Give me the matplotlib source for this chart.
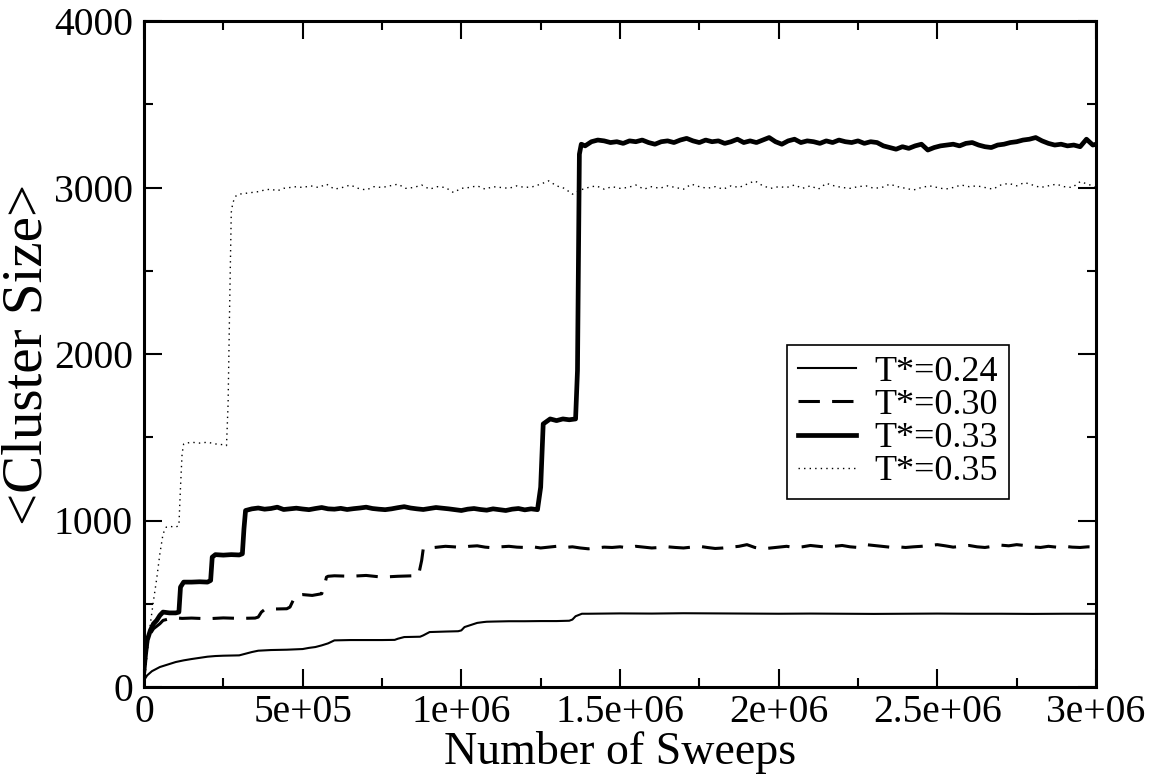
import numpy as np
import matplotlib
matplotlib.use("Agg")
import matplotlib.pyplot as plt

# ---------------- data (x in thousands of sweeps) ----------------
labels = ["T*=0.24", "T*=0.30", "T*=0.33", "T*=0.35"]

# T*=0.24 (thin solid)
x24 = [0, 10, 25, 50, 75, 100, 125, 150, 175, 200, 225, 250, 300, 320, 340, 360,
       400, 450, 500, 520, 540, 560, 580, 600, 650, 700, 750, 790, 800, 820, 870,
       880, 900, 950, 990, 1000, 1010, 1050, 1070, 1080, 1100, 1150, 1200, 1250,
       1300, 1340, 1350, 1360, 1380,
       1400, 1500, 1600, 1700, 1800, 1900, 2000, 2100, 2200, 2300, 2400, 2500,
       2600, 2700, 2800, 2900, 3000]
y24 = [40, 70, 95, 120, 135, 150, 160, 168, 175, 182, 186, 188, 190, 200, 210, 218,
       222, 224, 228, 235, 240, 250, 262, 280, 282, 282, 282, 283, 290, 300, 302,
       310, 330, 333, 335, 340, 360, 385, 390, 392, 393, 395, 395, 396,
       396, 398, 405, 425, 440,
       440, 442, 441, 443, 442, 441, 440, 441, 440, 439, 440, 441,
       440, 440, 439, 440, 440]

# T*=0.30 (dashed)
x30 = [0, 5, 10, 20, 30, 40, 50, 60, 80, 100, 120, 150, 200, 250, 300, 350, 360,
       370, 380, 400, 450, 460, 470, 480, 490, 500, 530, 560, 570, 575, 580, 600,
       650, 700, 750, 800, 850, 865, 875, 880, 890] + list(range(900, 3001, 25))
y30 = [130, 200, 260, 320, 350, 365, 380, 400, 410, 415, 412, 414, 410, 415, 412,
       414, 420, 450, 465, 468, 470, 480, 520, 550, 553, 555, 550, 560, 620, 660,
       665, 668, 665, 670, 660, 665, 668, 670, 760, 830, 835,
       835, 840, 845, 842, 838, 845, 848, 840, 836, 842,
       845, 840, 838, 842, 835, 840, 845, 838, 842, 835,
       830, 835, 840, 838, 842, 836, 845, 840, 835, 838,
       842, 838, 835, 840, 845, 838, 832, 835, 840, 845,
       855, 838, 830, 835, 840, 845, 838, 842, 850, 845,
       840, 845, 850, 842, 838, 855, 850, 845, 840, 842,
       838, 842, 845, 850, 855, 848, 840, 845, 850, 842,
       838, 845, 852, 848, 855, 850, 842, 838, 845, 840,
       845, 840, 838, 842, 840]

# T*=0.33 (thick solid)
x33 = [0, 5, 10, 20, 30, 40, 50, 60, 80, 100, 110, 115, 125, 150, 175, 200, 210,
       215, 225, 250, 275, 300, 310, 315, 320] + list(range(340, 1221, 20)) + \
      [1240, 1250, 1258, 1280, 1300, 1320, 1340, 1360, 1366, 1372, 1378] + \
      list(range(1390, 3000, 20)) + [3000]
y33 = [100, 200, 280, 340, 380, 400, 430, 450, 445, 445, 450, 600, 630, 630, 632,
       630, 640, 780, 795, 792, 795, 793, 800, 950, 1060,
       1070, 1075, 1068, 1072, 1080, 1066, 1070, 1074, 1069, 1065,
       1072, 1078, 1070, 1068, 1073, 1066, 1071, 1075, 1080, 1072,
       1068, 1065, 1070, 1077, 1083, 1075, 1070, 1066, 1072, 1078,
       1074, 1070, 1065, 1060, 1068, 1072, 1066, 1062, 1070, 1065,
       1060, 1068, 1072, 1064, 1070,
       1065, 1200, 1580, 1610, 1600, 1610, 1605, 1610, 1900, 3200, 3260,
       3250, 3275, 3285, 3280, 3270, 3275,
       3265, 3280, 3275, 3285, 3270, 3260, 3275, 3280, 3270, 3285,
       3295, 3280, 3270, 3285, 3275, 3280, 3265, 3275, 3290, 3270,
       3280, 3270, 3285, 3300, 3275, 3260, 3280, 3290, 3270, 3280,
       3275, 3265, 3280, 3270, 3285, 3275, 3270, 3280, 3265, 3275,
       3270, 3250, 3240, 3230, 3245, 3235, 3250, 3260, 3225, 3240,
       3250, 3255, 3260, 3250, 3265, 3270, 3255, 3245, 3240, 3255,
       3260, 3270, 3275, 3285, 3290, 3300, 3280, 3265, 3255, 3260,
       3250, 3255, 3245, 3290, 3255, 3260]

# T*=0.35 (dotted)
x35 = [0, 5, 10, 20, 30, 40, 50, 60, 70, 80, 100, 110, 115, 120, 125, 135, 150,
       175, 200, 225, 250, 260, 265, 270, 275, 280, 290, 300, 320, 340, 360, 380,
       400, 420, 440, 460, 480, 500] + list(range(525, 3001, 25))
y35 = [0, 100, 200, 380, 520, 650, 800, 920, 960, 965, 960, 970, 1200, 1400, 1460,
       1465, 1470, 1465, 1470, 1460, 1455, 1450, 1700, 2300, 2850, 2910, 2950,
       2960, 2965, 2970, 2975, 2985, 2990, 2980, 2995, 3000, 3005, 3000,
       3010, 3000, 3020, 2990, 3000, 3015, 2995, 2985, 3005, 3000,
       3010, 3020, 2995, 3000, 3015, 2990, 3005, 3000, 2970, 2995,
       3000, 3010, 2990, 3005, 3000, 2995, 3010, 3000, 3005, 3020,
       3040, 3010, 2995, 2960, 2985, 3000, 3010, 2990, 3005, 2995,
       3000, 3015, 2990, 3005, 2995, 3010, 3000, 2990, 3020, 3005,
       2995, 3005, 2990, 3010, 3000, 3020, 3040, 3010, 2995, 3005,
       3000, 3015, 2995, 3010, 2990, 3025, 3010, 3000, 2995, 3005,
       3010, 2995, 3000, 3020, 3005, 2995, 2985, 3000, 3010, 3000,
       2990, 3000, 3015, 3005, 3010, 3000, 2990, 3015, 3025, 3010,
       3030, 3015, 3000, 3010, 3020, 3005, 3000, 3035, 3020, 3000]

xtick_vals = [0, 500000, 1000000, 1500000, 2000000, 2500000, 3000000]
xtick_labels = ["0", "5e+05", "1e+06", "1.5e+06", "2e+06", "2.5e+06", "3e+06"]
ytick_vals = [0, 1000, 2000, 3000, 4000]
ytick_labels = ["0", "1000", "2000", "3000", "4000"]

# ---------------- plot ----------------
plt.rcParams['font.family'] = ['Liberation Serif', 'DejaVu Serif']
fig = plt.figure(figsize=(11.54, 7.83), dpi=100)
ax = fig.add_axes([144/1154, 1-687/783, 952/1154, 666/783])

def sx(v):
    return np.array(v) * 1000.0

ax.plot(sx(x24), y24, color='black', lw=1.5, label=labels[0])
ax.plot(sx(x30), y30, color='black', lw=2.2, linestyle=(0, (7, 4)), label=labels[1])
ax.plot(sx(x33), y33, color='black', lw=3.4, label=labels[2])
ax.plot(sx(x35), y35, color='black', lw=1.0, linestyle=(0, (1, 3)), label=labels[3])

ax.set_xlim(0, 3000000)
ax.set_ylim(0, 4000)
ax.set_xticks(xtick_vals)
ax.set_xticklabels(xtick_labels)
ax.set_yticks(ytick_vals)
ax.set_yticklabels(ytick_labels)
ax.set_xticks(np.arange(250000, 3000000, 500000), minor=True)
ax.set_yticks(np.arange(500, 4000, 1000), minor=True)
ax.tick_params(which='both', direction='in', top=True, right=True, labelsize=28.5, width=1.5)
ax.tick_params(which='major', length=13)
ax.tick_params(which='minor', length=6.5)
ax.tick_params(axis='x', pad=5)
ax.tick_params(axis='y', pad=8)
for s in ax.spines.values():
    s.set_linewidth(2.2)

ax.set_xlabel("Number of Sweeps", fontsize=33, labelpad=0)
ax.set_ylabel("<Cluster Size>", fontsize=41, labelpad=0)

leg = ax.legend(loc='center', bbox_to_anchor=(0.792, 0.398), fontsize=26,
                frameon=True, fancybox=False, shadow=False, framealpha=1,
                edgecolor='black', handlelength=1.6, labelspacing=0.0,
                borderpad=0.3, handletextpad=0.5, borderaxespad=0)
leg.get_frame().set_linewidth(1.2)

fig.savefig("out.png", dpi=100)
